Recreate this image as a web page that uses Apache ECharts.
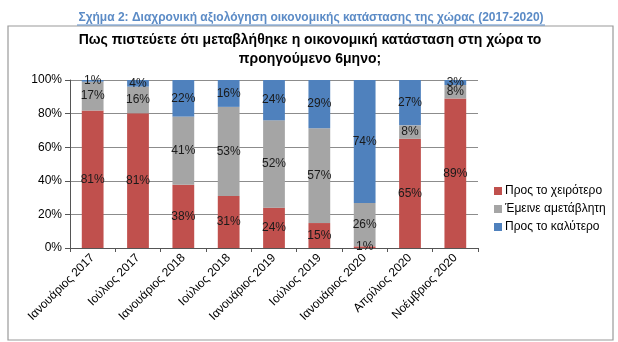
<!DOCTYPE html>
<html><head><meta charset="utf-8">
<script src="https://cdn.jsdelivr.net/npm/echarts@6/dist/echarts.min.js"></script>
<style>html,body{margin:0;padding:0;background:#fff}#c{width:618px;height:342px}</style>
</head><body><div id="c"></div>
<script>
const categories = ['Ιανουάριος 2017','Ιούλιος 2017','Ιανουάριος 2018','Ιούλιος 2018','Ιανουάριος 2019','Ιούλιος 2019','Ιανουάριος 2020','Απρίλιος 2020','Νοέμβριος 2020'];
const worse  = [81, 81, 38, 31, 24, 15, 1, 65, 89];
const same   = [17, 16, 41, 53, 52, 57, 26, 8, 8];
const better = [1, 4, 22, 16, 24, 29, 74, 27, 3];
const seriesNames = ['Προς το χειρότερο','Έμεινε αμετάβλητη','Προς το καλύτερο'];
const yTicks = ['0%','20%','40%','60%','80%','100%'];
const colors = ['#c0504d','#a5a5a5','#4f81bd'];

const raw = [worse, same, better];
const totals = categories.map((_, i) => worse[i] + same[i] + better[i]);
const font = 'Liberation Sans, Arial, sans-serif';

const chart = echarts.init(document.getElementById('c'), null, {renderer:'canvas'});
chart.setOption({
  animation:false,
  graphic:[
    {type:'rect', shape:{x:8,y:26,width:605,height:314}, style:{fill:'none', stroke:'#9a9a9a', lineWidth:1.2}, z:-1},
    {type:'text', x:311, y:12, style:{text:'Σχήμα 2: Διαχρονική αξιολόγηση οικονομικής κατάστασης της χώρας (2017-2020)', fill:'#5b8bc6', font:'bold 12px '+font, align:'center'}},
    {type:'line', shape:{x1:77,y1:25,x2:545,y2:25}, style:{stroke:'#5b8bc6', lineWidth:1}},
    {type:'text', x:310, y:31, style:{text:'Πως πιστεύετε ότι μεταβλήθηκε η οικονομική κατάσταση στη χώρα το\nπροηγούμενο 6μηνο;', fill:'#000', font:'bold 14px '+font, align:'center', lineHeight:19}}
  ],
  legend:{
    orient:'vertical', left:489, top:180, itemWidth:8, itemHeight:8, itemGap:6,
    icon:'rect', textStyle:{fontFamily:font, fontSize:12, color:'#000', padding:[0,0,0,-2]},
    data:seriesNames
  },
  grid:{left:70, right:140, top:80, bottom:94, containLabel:false},
  xAxis:{
    type:'category', data:categories,
    axisLine:{lineStyle:{color:'#555', width:1}},
    axisTick:{show:true, alignWithLabel:false, length:4, lineStyle:{color:'#555'}},
    axisLabel:{rotate:45, interval:0, fontFamily:font, fontSize:12, color:'#000', margin:8}
  },
  yAxis:{
    type:'value', min:0, max:100, interval:20,
    axisLine:{show:true, lineStyle:{color:'#555'}},
    axisTick:{show:true, inside:false, length:5, lineStyle:{color:'#555'}},
    splitLine:{lineStyle:{color:'#8c8c8c', width:1}},
    axisLabel:{fontFamily:font, fontSize:12, color:'#000', margin:8, formatter:v => yTicks[v/20]}
  },
  series: raw.map((arr, s) => ({
    name:seriesNames[s], type:'bar', stack:'total', barWidth:'48%',
    itemStyle:{color:colors[s]},
    data: arr.map((v, i) => ({value: v * 100 / totals[i], raw: v})),
    label:{show:true, position:'inside', fontFamily:font, fontSize:12, color:'#1a1a1a',
      formatter: p => raw[s][p.dataIndex] + '%'}
  }))
});
</script></body></html>
